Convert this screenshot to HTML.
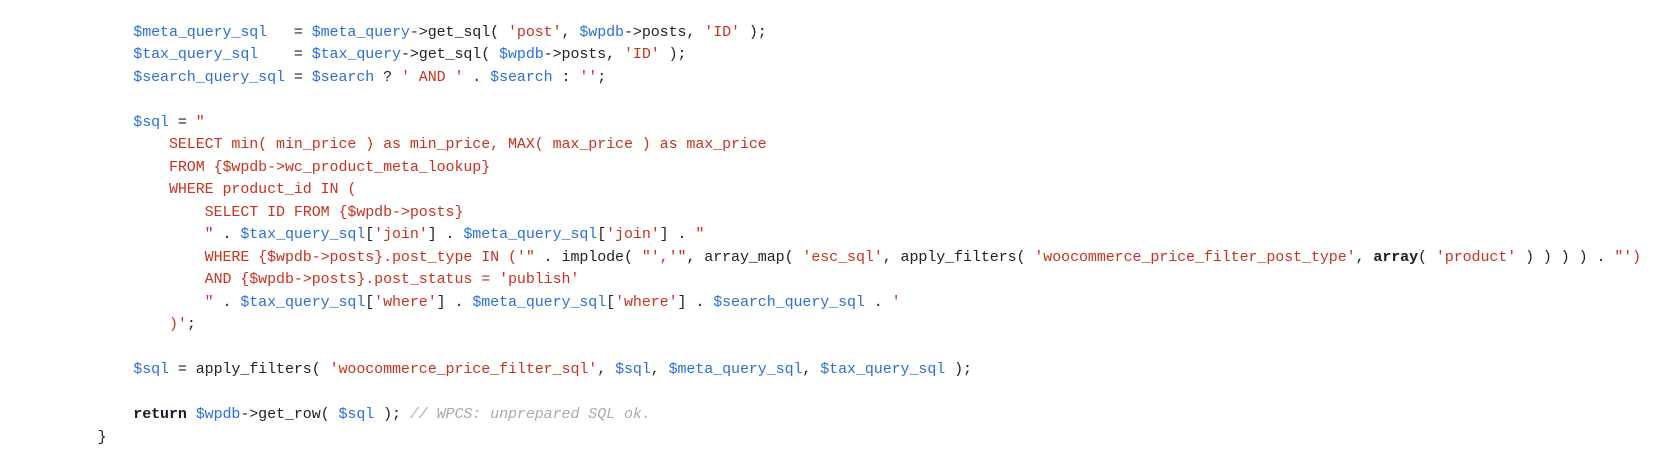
<!DOCTYPE html>
<html>
<head>
<meta charset="utf-8">
<style>
html,body{margin:0;padding:0;background:#fff;width:1656px;height:460px;overflow:hidden}
pre{position:absolute;left:97.6px;top:21.5px;margin:0;font-family:"Liberation Mono",monospace;font-size:15px;letter-spacing:-0.08px;line-height:22.5px;color:#222;white-space:pre}
i.v{font-style:normal;color:#2a6fdb}
i.s{font-style:normal;color:#c8321e}
i.c{font-style:italic;color:#aaa}
b{font-weight:bold;color:#1a1a2a}
</style>
</head>
<body>
<pre>    <i class="v">$meta_query_sql</i>   = <i class="v">$meta_query</i>-&gt;get_sql( <i class="s">'post'</i>, <i class="v">$wpdb</i>-&gt;posts, <i class="s">'ID'</i> );
    <i class="v">$tax_query_sql</i>    = <i class="v">$tax_query</i>-&gt;get_sql( <i class="v">$wpdb</i>-&gt;posts, <i class="s">'ID'</i> );
    <i class="v">$search_query_sql</i> = <i class="v">$search</i> ? <i class="s">' AND '</i> . <i class="v">$search</i> : <i class="s">''</i>;

    <i class="v">$sql</i> = <i class="s">"</i>
        <i class="s">SELECT min( min_price ) as min_price, MAX( max_price ) as max_price</i>
        <i class="s">FROM {$wpdb-&gt;wc_product_meta_lookup}</i>
        <i class="s">WHERE product_id IN (</i>
            <i class="s">SELECT ID FROM {$wpdb-&gt;posts}</i>
            <i class="s">"</i> . <i class="v">$tax_query_sql</i>[<i class="s">'join'</i>] . <i class="v">$meta_query_sql</i>[<i class="s">'join'</i>] . <i class="s">"</i>
            <i class="s">WHERE {$wpdb-&gt;posts}.post_type IN ('"</i> . implode( <i class="s">"','"</i>, array_map( <i class="s">'esc_sql'</i>, apply_filters( <i class="s">'woocommerce_price_filter_post_type'</i>, <b>array</b>( <i class="s">'product'</i> ) ) ) ) . <i class="s">"')</i>
            <i class="s">AND {$wpdb-&gt;posts}.post_status = 'publish'</i>
            <i class="s">"</i> . <i class="v">$tax_query_sql</i>[<i class="s">'where'</i>] . <i class="v">$meta_query_sql</i>[<i class="s">'where'</i>] . <i class="v">$search_query_sql</i> . <i class="s">'</i>
        <i class="s">)'</i>;

    <i class="v">$sql</i> = apply_filters( <i class="s">'woocommerce_price_filter_sql'</i>, <i class="v">$sql</i>, <i class="v">$meta_query_sql</i>, <i class="v">$tax_query_sql</i> );

    <b>return</b> <i class="v">$wpdb</i>-&gt;get_row( <i class="v">$sql</i> ); <i class="c">// WPCS: unprepared SQL ok.</i>
}</pre>
</body>
</html>
